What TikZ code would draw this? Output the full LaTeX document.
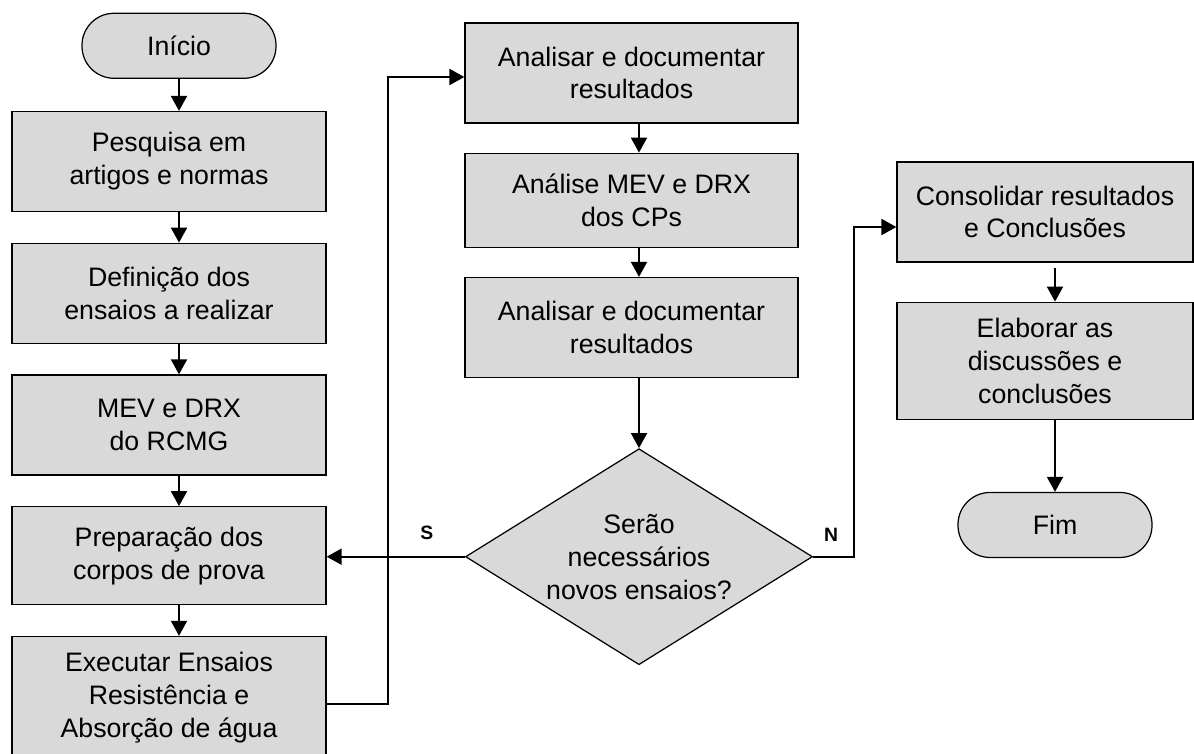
\documentclass[tikz,border=0pt]{standalone}
\usepackage{fontspec}
\setmainfont{Liberation Sans}
\usepackage{xcolor}
\usetikzlibrary{arrows.meta, positioning, shapes.geometric}
\definecolor{boxgray}{HTML}{D9D9D9}

\begin{document}
\begin{tikzpicture}[
    node distance=0.61cm,
    font=\fontsize{15.2}{18.7}\selectfont,
    box/.style={rectangle, draw=black, line width=0.7pt, fill=boxgray, minimum width=6.28cm, minimum height=2cm, align=center},
    term/.style={rectangle, rounded corners=0.64cm, draw=black, line width=0.7pt, fill=boxgray, minimum width=3.88cm, minimum height=1.3cm},
    decision/.style={diamond, shape aspect=1.6, draw=black, line width=0.7pt, fill=boxgray, minimum width=6.94cm, minimum height=4.32cm, inner sep=0pt, align=center},
    arrow/.style={-{Triangle[length=0.3cm, width=0.32cm]}, line width=1.1pt},
    lbl/.style={font=\fontsize{11}{13}\selectfont\bfseries}
]
\useasboundingbox (0,0) rectangle (23.88,-15.06);

% coluna esquerda
\node[box] (pesq) at (3.38,-3.23) {Pesquisa em\\artigos e normas};
\node[term, above=0.64cm of pesq, xshift=0.2cm] (inicio) {Início};
\node[box, below=of pesq] (defin) {Definição dos\\ensaios a realizar};
\node[box, below=of defin] (mevrcmg) {MEV e DRX\\do RCMG};
\node[box, below=of mevrcmg, minimum height=1.96cm] (prep) {Preparação dos\\corpos de prova};
\node[box, below=of prep, minimum height=2.44cm] (exec) {Executar Ensaios\\Resistência e\\Absorção de água};

% coluna do meio
\node[box, minimum width=6.66cm] (ana1) at (12.63,-1.46) {Analisar e documentar\\resultados};
\node[box, minimum width=6.66cm, minimum height=1.88cm, below=0.58cm of ana1] (mevcp) {Análise MEV e DRX\\dos CPs};
\node[box, minimum width=6.66cm, below=0.58cm of mevcp] (ana2) {Analisar e documentar\\resultados};
\node[decision, below=1.4cm of ana2, xshift=0.15cm] (diam) {Serão\\necessários\\novos ensaios?};

% coluna direita
\node[box, minimum width=5.92cm] (cons) at (20.9,-4.24) {Consolidar resultados\\e Conclusões};
\node[box, minimum width=5.92cm, minimum height=2.34cm, below=0.78cm of cons] (elab) {Elaborar as\\discussões e\\conclusões};
\node[term, below=1.44cm of elab, xshift=0.2cm] (fim) {Fim};

% rotulos
\node[lbl] (sim) at ([xshift=-0.76cm, yshift=0.48cm]diam.west) {S};
\node[lbl] (nao) at ([xshift=0.36cm, yshift=0.44cm]diam.east) {N};

% setas
\draw[arrow] (inicio) -- (inicio |- pesq.north);
\draw[arrow] (pesq.south -| inicio) -- (defin.north -| inicio);
\draw[arrow] (defin.south -| inicio) -- (mevrcmg.north -| inicio);
\draw[arrow] (mevrcmg.south -| inicio) -- (prep.north -| inicio);
\draw[arrow] (prep.south -| inicio) -- (exec.north -| inicio);

\coordinate (loopx) at (7.76,0);
\draw[arrow] ([yshift=-0.14cm]exec.east) -- ([yshift=-0.14cm]exec.east -| loopx) |- ([yshift=-0.08cm]ana1.west);

\draw[arrow] (ana1.south -| diam) -- (mevcp.north -| diam);
\draw[arrow] (mevcp.south -| diam) -- (ana2.north -| diam);
\draw[arrow] (ana2.south -| diam) -- (diam.north);

\draw[arrow] (diam.west) -- (diam.west -| prep.east);
\draw[arrow] (diam.east) -- ++(0.82,0) |- ([yshift=-0.3cm]cons.west);

\draw[arrow, shorten <=0.1cm] (cons.south -| fim) -- (elab.north -| fim);
\draw[arrow] (elab.south -| fim) -- (fim.north);
\end{tikzpicture}
\end{document}
